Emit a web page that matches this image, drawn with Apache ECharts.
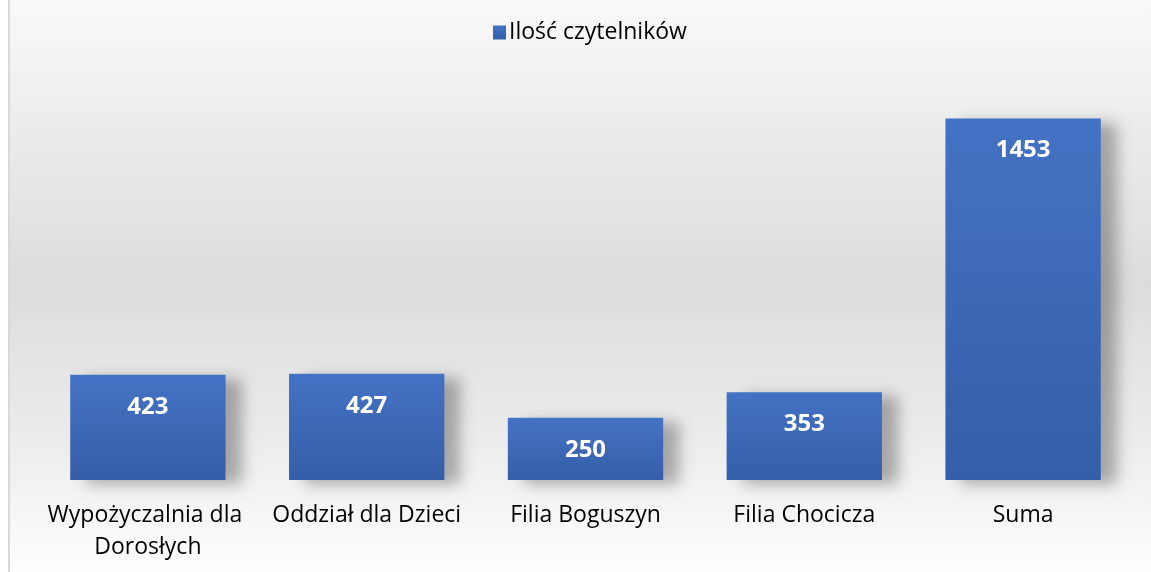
<!DOCTYPE html>
<html><head><meta charset="utf-8">
<script src="https://cdn.jsdelivr.net/npm/echarts@6/dist/echarts.min.js"></script>
<style>html,body{margin:0;padding:0;background:#fff;}#c{width:1151px;height:572px;}</style>
</head><body><div id="c"></div>
<script>
const categories = ["Wypożyczalnia dla Dorosłych", "Oddział dla Dzieci", "Filia Boguszyn", "Filia Chocicza", "Suma"];
const seriesName = "Ilość czytelników";
const values = [423, 427, 250, 353, 1453];

const chart = echarts.init(document.getElementById('c'));
chart.setOption({
  backgroundColor: new echarts.graphic.LinearGradient(0,0,0,1,[
    {offset:0,color:'#f9f9f9'},
    {offset:0.5,color:'#dcdcdc'},
    {offset:0.8,color:'#eeeeee'},
    {offset:1,color:'#fefefe'}
  ]),
  animation:false,
  graphic:[
    {type:'rect',left:0,top:0,shape:{width:8,height:572},style:{fill:'#ffffff'},z:-1},
    {type:'rect',left:8,top:0,shape:{width:2,height:572},style:{fill:'#d9d9d9'},z:-1}
  ],
  legend:{
    top:16, left:488,
    itemWidth:13, itemHeight:14, itemGap:6,
    icon:'rect',
    textStyle:{fontFamily:'Open Sans',fontSize:23,color:'#000',padding:[0,0,0,-2]},
    data:[seriesName]
  },
  grid:{left:38.5,right:18.5,top:82,bottom:92,containLabel:false},
  xAxis:{
    type:'category', data:categories,
    axisLine:{show:false}, axisTick:{show:false},
    axisLabel:{fontFamily:'Open Sans',fontSize:23,color:'#000',margin:19,lineHeight:32,width:215,overflow:'break',interval:0}
  },
  yAxis:{type:'value',min:0,max:1600,show:false,splitLine:{show:false}},
  series:[{
    name:seriesName,type:'bar',data:values,barWidth:'71%',
    itemStyle:{
      color:new echarts.graphic.LinearGradient(0,0,0,1,[{offset:0,color:'#4472c4'},{offset:1,color:'#355ea8'}]),
      shadowColor:'rgba(0,0,0,0.3)',shadowBlur:14,shadowOffsetX:16,shadowOffsetY:4
    },
    label:{show:true,position:'insideTop',distance:20,color:'#fff',fontFamily:'Open Sans',fontWeight:'bold',fontSize:24}
  }]
});
</script></body></html>
